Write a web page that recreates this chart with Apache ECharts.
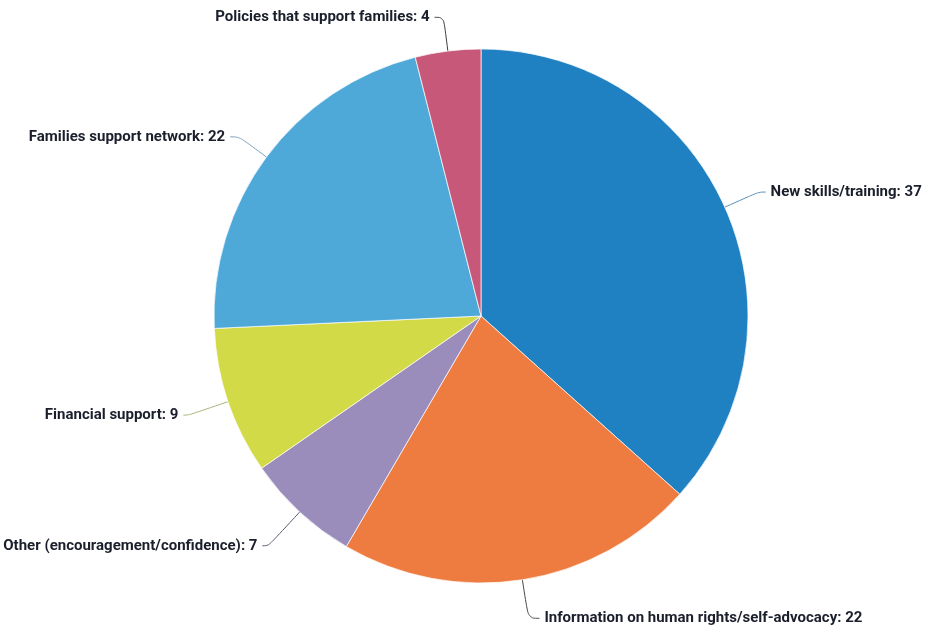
<!DOCTYPE html>
<html>
<head>
<meta charset="utf-8">
<script src="https://cdn.jsdelivr.net/npm/echarts@6/dist/echarts.min.js"></script>
<style>
  html, body { margin: 0; padding: 0; background: #ffffff; }
  #chart { width: 925px; height: 626px; }
</style>
</head>
<body>
<div id="chart"></div>
<script>
// Survey answers, listed clockwise from twelve o'clock
var categories = [
  'New skills/training',
  'Information on human rights/self-advocacy',
  'Other (encouragement/confidence)',
  'Financial support',
  'Families support network',
  'Policies that support families'
];
var counts = [37, 22, 7, 9, 22, 4];
var sliceColors = ['#1f80c2', '#ee7b3f', '#9a8cbb', '#d3da48', '#4ea9d9', '#c85879'];
var leaderColors = ['#5b8fb8', '#4a4a4a', '#5e5a72', '#a9b77a', '#7fa3bb', '#3d3d3d'];
// leader line: radial part, then horizontal part
var leaderRadial = [37, 39, 46, 42, 34, 34];
var leaderFlat = [7, 11, 6, 5, 9, 9];

var chart = echarts.init(document.getElementById('chart'));

chart.setOption({
  backgroundColor: '#ffffff',
  animation: false,
  series: [{
    type: 'pie',
    center: [481, 316],
    radius: [0, 267],
    startAngle: 90,
    clockwise: true,
    avoidLabelOverlap: false,
    data: categories.map(function (name, i) {
      return {
        name: name,
        value: counts[i],
        itemStyle: { color: sliceColors[i] },
        labelLine: {
          length: leaderRadial[i],
          length2: leaderFlat[i],
          lineStyle: { color: leaderColors[i] }
        }
      };
    }),
    itemStyle: { borderColor: 'rgba(255,255,255,0.7)', borderWidth: 1 },
    label: {
      show: true,
      position: 'outside',
      formatter: '{b}: {c}',
      color: '#1b1e2b',
      fontFamily: 'Roboto',
      fontWeight: 'bold',
      fontSize: 15
    },
    labelLine: {
      show: true,
      smooth: 0.4,
      lineStyle: { width: 1 }
    },
    emphasis: { disabled: true }
  }]
});
</script>
</body>
</html>
